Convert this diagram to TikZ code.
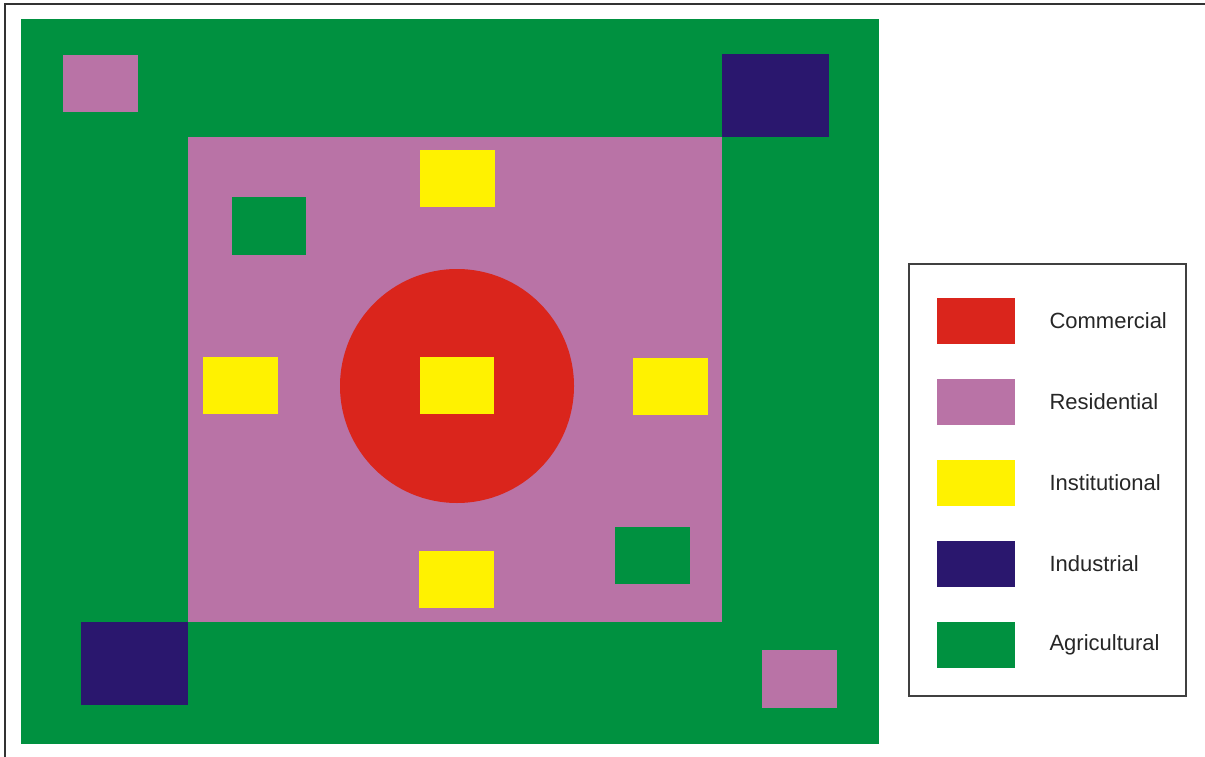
\documentclass[tikz,border=0pt]{standalone}
\usepackage{fontspec}
\setmainfont{Liberation Sans}
\usepackage{tikz}
\definecolor{agri}{RGB}{0,145,64}
\definecolor{resi}{RGB}{185,115,166}
\definecolor{indu}{RGB}{42,23,110}
\definecolor{comm}{RGB}{218,37,28}
\definecolor{inst}{RGB}{255,242,0}

\begin{document}
\begin{tikzpicture}[x=1pt,y=-1pt]
            \useasboundingbox (0,0) rectangle (1205,757);
            \draw [line width=2pt,black!80] (5,757) -- (5,4) -- (1205,4);
            % agricultural land
            \fill [agri] (21,19) rectangle (879,744);
            \fill [resi] (63,55) rectangle (138,112);
            \fill [indu] (722,54) rectangle (829,137);
            \fill [indu] (81,622) rectangle (188,705);
            \fill [resi] (762,650) rectangle (837,708);
            % residential zone
            \fill [resi] (188,137) rectangle (722,622);
            \fill [agri] (232,197) rectangle (306,255);
            \fill [agri] (615,527) rectangle (690,584);
            \fill [comm] (457,386) circle [radius=117];
            \fill [inst] (420,150) rectangle (495,207);
            \fill [inst] (203,357) rectangle (278,414);
            \fill [inst] (420,357) rectangle (494,414);
            \fill [inst] (633,358) rectangle (708,415);
            \fill [inst] (419,551) rectangle (494,608);
            % legend
            \draw [line width=1.4pt,black!75] (909,264) rectangle (1186,696);
            \foreach \c/\t [count=\i from 0] in {comm/Commercial,resi/Residential,inst/Institutional,indu/Industrial,agri/Agricultural} {
                \fill [\c] (937,298+81*\i) rectangle (1015,344+81*\i);
                \node [anchor=west,text=black!85,font=\fontsize{22}{26}\selectfont] (lab\i) at (1046,321+81*\i) {\t};
            }
        \end{tikzpicture}
\end{document}
